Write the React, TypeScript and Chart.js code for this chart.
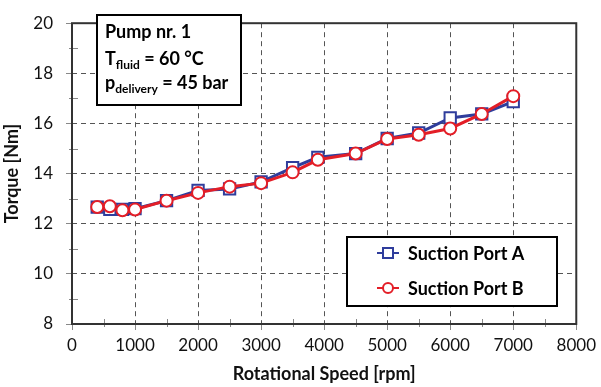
import React, { useEffect, useRef } from "react";
import { Chart, registerables } from "chart.js";

Chart.register(...registerables);

const speeds = [400, 600, 800, 1000, 1500, 2000, 2500, 3000, 3500, 3900, 4500, 5000, 5500, 6000, 6500, 7000];
const portA = [12.66, 12.57, 12.57, 12.6, 12.92, 13.33, 13.39, 13.67, 14.24, 14.65, 14.8, 15.4, 15.62, 16.22, 16.38, 16.87];
const portB = [12.67, 12.7, 12.54, 12.57, 12.92, 13.23, 13.48, 13.62, 14.05, 14.55, 14.8, 15.38, 15.55, 15.8, 16.38, 17.09];
const seriesNames = ["Suction Port A", "Suction Port B"];
const xTicks = [0, 1000, 2000, 3000, 4000, 5000, 6000, 7000, 8000];
const yTicks = [8, 10, 12, 14, 16, 18, 20];

const BLUE = "#2f3d9c";
const RED = "#e31e27";
const FONT = "Lato, 'Open Sans', sans-serif";

const overlayPlugin = {
  id: "overlay",
  afterDraw(chart: any) {
    const { ctx, chartArea } = chart;
    const xs = chart.scales.x;
    const ys = chart.scales.y;
    ctx.save();
    // minor ticks
    ctx.strokeStyle = "#888";
    ctx.lineWidth = 1;
    ctx.setLineDash([]);
    for (let v = 500; v < 8000; v += 1000) {
      const px = Math.round(xs.getPixelForValue(v)) + 0.5;
      ctx.beginPath();
      ctx.moveTo(px, chartArea.bottom - 5);
      ctx.lineTo(px, chartArea.bottom + 3);
      ctx.stroke();
    }
    for (let v = 9; v < 20; v += 2) {
      const py = Math.round(ys.getPixelForValue(v)) + 0.5;
      ctx.beginPath();
      ctx.moveTo(chartArea.left - 3, py);
      ctx.lineTo(chartArea.left + 6, py);
      ctx.stroke();
    }
    // frame
    ctx.strokeStyle = "#333";
    ctx.lineWidth = 2;
    ctx.strokeRect(chartArea.left, chartArea.top, chartArea.right - chartArea.left, chartArea.bottom - chartArea.top);

    // annotation box
    const bx = 97, by = 15, bw = 144, bh = 90;
    ctx.fillStyle = "#fff";
    ctx.fillRect(bx, by, bw, bh);
    ctx.strokeStyle = "#000";
    ctx.lineWidth = 2;
    ctx.strokeRect(bx, by, bw, bh);
    ctx.fillStyle = "#000";
    ctx.textBaseline = "alphabetic";
    ctx.textAlign = "left";
    const big = `bold 18px ${FONT}`;
    const small = `bold 12px ${FONT}`;
    let x = 105;
    ctx.font = big;
    ctx.fillText("Pump nr. 1", x, 38);
    ctx.fillText("T", x, 65);
    x += ctx.measureText("T").width;
    ctx.font = small;
    ctx.fillText("fluid", x, 69);
    x += ctx.measureText("fluid").width;
    ctx.font = big;
    ctx.fillText(" = 60 °C", x, 65);
    x = 105;
    ctx.fillText("p", x, 89);
    x += ctx.measureText("p").width;
    ctx.font = small;
    ctx.fillText("delivery", x, 93);
    x += ctx.measureText("delivery").width;
    ctx.font = big;
    ctx.fillText(" = 45 bar", x, 89);

    // legend box
    const lx = 347, ly = 237, lw = 210, lh = 69;
    ctx.fillStyle = "#fff";
    ctx.fillRect(lx, ly, lw, lh);
    ctx.strokeStyle = "#000";
    ctx.lineWidth = 2;
    ctx.strokeRect(lx, ly, lw, lh);
    const rows = [253, 288];
    const cols = [BLUE, RED];
    rows.forEach((ry, i) => {
      ctx.strokeStyle = cols[i];
      ctx.lineWidth = 2;
      ctx.beginPath();
      ctx.moveTo(377, ry);
      ctx.lineTo(399, ry);
      ctx.stroke();
      ctx.fillStyle = "#fff";
      if (i === 0) {
        ctx.fillRect(383, ry - 5, 10, 10);
        ctx.strokeRect(383, ry - 5, 10, 10);
      } else {
        ctx.beginPath();
        ctx.arc(388, ry, 5, 0, Math.PI * 2);
        ctx.fill();
        ctx.stroke();
      }
      ctx.fillStyle = "#000";
      ctx.font = `bold 18px ${FONT}`;
      ctx.textBaseline = "middle";
      ctx.fillText(seriesNames[i], 408, ry + 1);
    });
    ctx.restore();
  },
};

export default function App() {
  const ref = useRef<HTMLCanvasElement | null>(null);
  useEffect(() => {
    document.body.style.margin = "0";
    const canvas = ref.current!;
    const chart = new Chart(canvas, {
      type: "line",
      data: {
        datasets: [
          {
            label: seriesNames[0],
            data: speeds.map((s, i) => ({ x: s, y: portA[i] })),
            order: 2,
            borderColor: BLUE,
            backgroundColor: "#fff",
            borderWidth: 3,
            pointStyle: "rect",
            pointRadius: 8,
            pointBorderWidth: 2,
            pointBorderColor: BLUE,
            pointBackgroundColor: "#fff",
            tension: 0,
          },
          {
            label: seriesNames[1],
            data: speeds.map((s, i) => ({ x: s, y: portB[i] })),
            order: 1,
            borderColor: RED,
            backgroundColor: "#fff",
            borderWidth: 3,
            pointStyle: "circle",
            pointRadius: 6,
            pointBorderWidth: 2,
            pointBorderColor: RED,
            pointBackgroundColor: "#fff",
            tension: 0,
          },
        ],
      },
      options: {
        animation: false,
        responsive: false,
        events: [],
        layout: { padding: { top: 7, right: 20, left: 0, bottom: 0 } },
        plugins: { legend: { display: false }, tooltip: { enabled: false } },
        scales: {
          x: {
            type: "linear",
            min: 0,
            max: 8000,
            afterBuildTicks: (s: any) => {
              s.ticks = xTicks.map((v) => ({ value: v }));
            },
            afterFit: (s: any) => {
              s.height = 63;
            },
            ticks: {
              color: "#111",
              font: { family: FONT, size: 17 },
              padding: 5,
              maxRotation: 0,
              callback: (v: any) => String(v),
            },
            grid: { color: "#555", lineWidth: 1, tickLength: 6, tickColor: "#888", tickBorderDash: [] },
            border: { display: false, dash: [5, 4] },
            title: {
              display: true,
              text: "Rotational Speed [rpm]",
              color: "#111",
              font: { family: FONT, size: 18, weight: "bold" },
              padding: { top: 0, bottom: 2 },
            },
          },
          y: {
            type: "linear",
            min: 8,
            max: 20,
            afterBuildTicks: (s: any) => {
              s.ticks = yTicks.map((v) => ({ value: v }));
            },
            afterFit: (s: any) => {
              s.width = 72;
            },
            ticks: {
              color: "#111",
              font: { family: FONT, size: 17 },
              padding: 13,
              callback: (v: any) => String(v),
            },
            grid: { color: "#555", lineWidth: 1, tickLength: 6, tickColor: "#888", tickBorderDash: [] },
            border: { display: false, dash: [5, 4] },
            title: {
              display: true,
              text: "Torque [Nm]",
              color: "#111",
              font: { family: FONT, size: 18, weight: "bold" },
              padding: { top: 1, bottom: 0 },
            },
          },
        },
      },
      plugins: [overlayPlugin],
    });
    return () => chart.destroy();
  }, []);
  return (
    <div style={{ position: "fixed", left: 0, top: 0, width: 601, height: 387, background: "#fff" }}>
      <canvas ref={ref} width={601} height={387} style={{ width: 601, height: 387, display: "block" }} />
    </div>
  );
}
